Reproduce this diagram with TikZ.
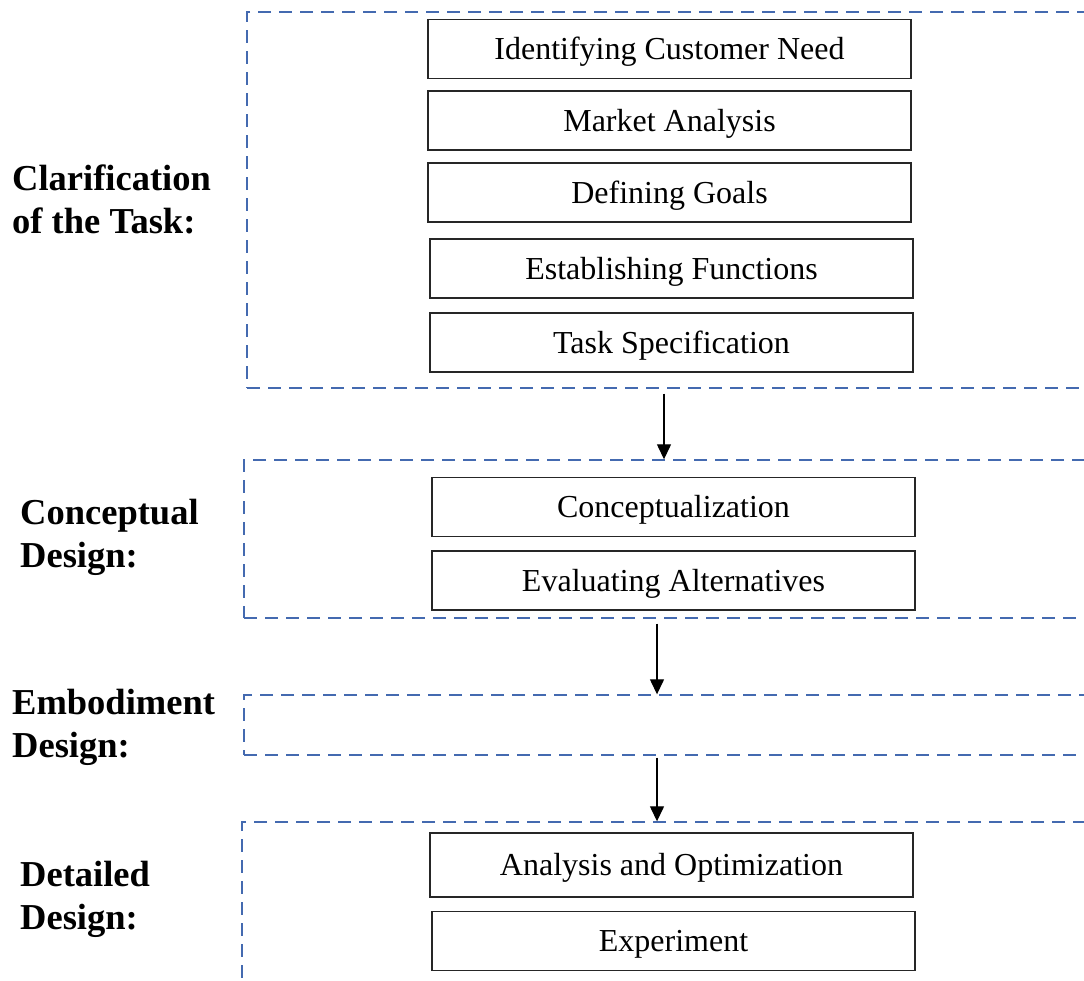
\documentclass[tikz,border=0pt]{standalone}
\usepackage{fontspec}
\setmainfont{Liberation Serif}
\usetikzlibrary{arrows.meta}
\definecolor{stageblue}{RGB}{68,106,176}
\tikzset{
  stagebox/.style={draw=stageblue, line width=1.4pt, dash pattern=on 13pt off 8pt,
    rectangle, inner sep=0pt},
  taskbox/.style={draw=black!85, line width=1.8pt, rectangle, inner sep=0pt,
    minimum width=483pt, minimum height=59pt, text height=21pt, text depth=0pt,
    font=\fontsize{32}{36}\selectfont},
  stagelabel/.style={anchor=north west, align=left, inner sep=0pt,
    font=\fontsize{36.5}{43}\selectfont\bfseries},
  flow/.style={draw=black, line width=1.3pt, -{Triangle[width=14pt,length=15pt]}}
}
\begin{document}
\begin{tikzpicture}[x=1pt,y=-1pt]
\useasboundingbox (0,0) rectangle (1084,980);
\clip (0,0) rectangle (1084,980);

% stage frames (open to the right)
\node[stagebox, minimum width=853pt, minimum height=376pt] (s1) at (673.5,200) {};
\node[stagebox, minimum width=856pt, minimum height=158pt] (s2) at (672,539) {};
\node[stagebox, minimum width=856pt, minimum height=60pt]  (s3) at (672,725) {};
\node[stagebox, minimum width=858pt, minimum height=178pt] (s4) at (671,911) {};

% stage names
\node[stagelabel] (l1) at (12,165) {Clarification\\of the Task:};
\node[stagelabel] (l2) at (20,499) {Conceptual\\Design:};
\node[stagelabel] (l3) at (12,689) {Embodiment\\Design:};
\node[stagelabel] (l4) at (20,861) {Detailed\\Design:};

% activities
\node[taskbox] (t1) at (669.5,49)    {Identifying Customer Need};
\node[taskbox] (t2) at (669.5,120.5) {Market Analysis};
\node[taskbox] (t3) at (669.5,192.5) {Defining Goals};
\node[taskbox] (t4) at (671.5,268.5) {Establishing Functions};
\node[taskbox] (t5) at (671.5,342.5) {Task Specification};
\node[taskbox] (t6) at (673.5,507)   {Conceptualization};
\node[taskbox] (t7) at (673.5,580.5) {Evaluating Alternatives};
\node[taskbox, minimum height=64pt] (t8) at (671.5,865) {Analysis and Optimization};
\node[taskbox] (t9) at (673.5,941)   {Experiment};

% transitions between stages
\coordinate (a1) at (664,0);
\coordinate (a2) at (657,0);
\draw[flow] ([yshift=-5pt]s1.south -| a1) -- (s2.north -| a1);
\draw[flow] ([yshift=-5pt]s2.south -| a2) -- (s3.north -| a2);
\draw[flow] ([yshift=-2pt]s3.south -| a2) -- (s4.north -| a2);
\end{tikzpicture}
\end{document}
